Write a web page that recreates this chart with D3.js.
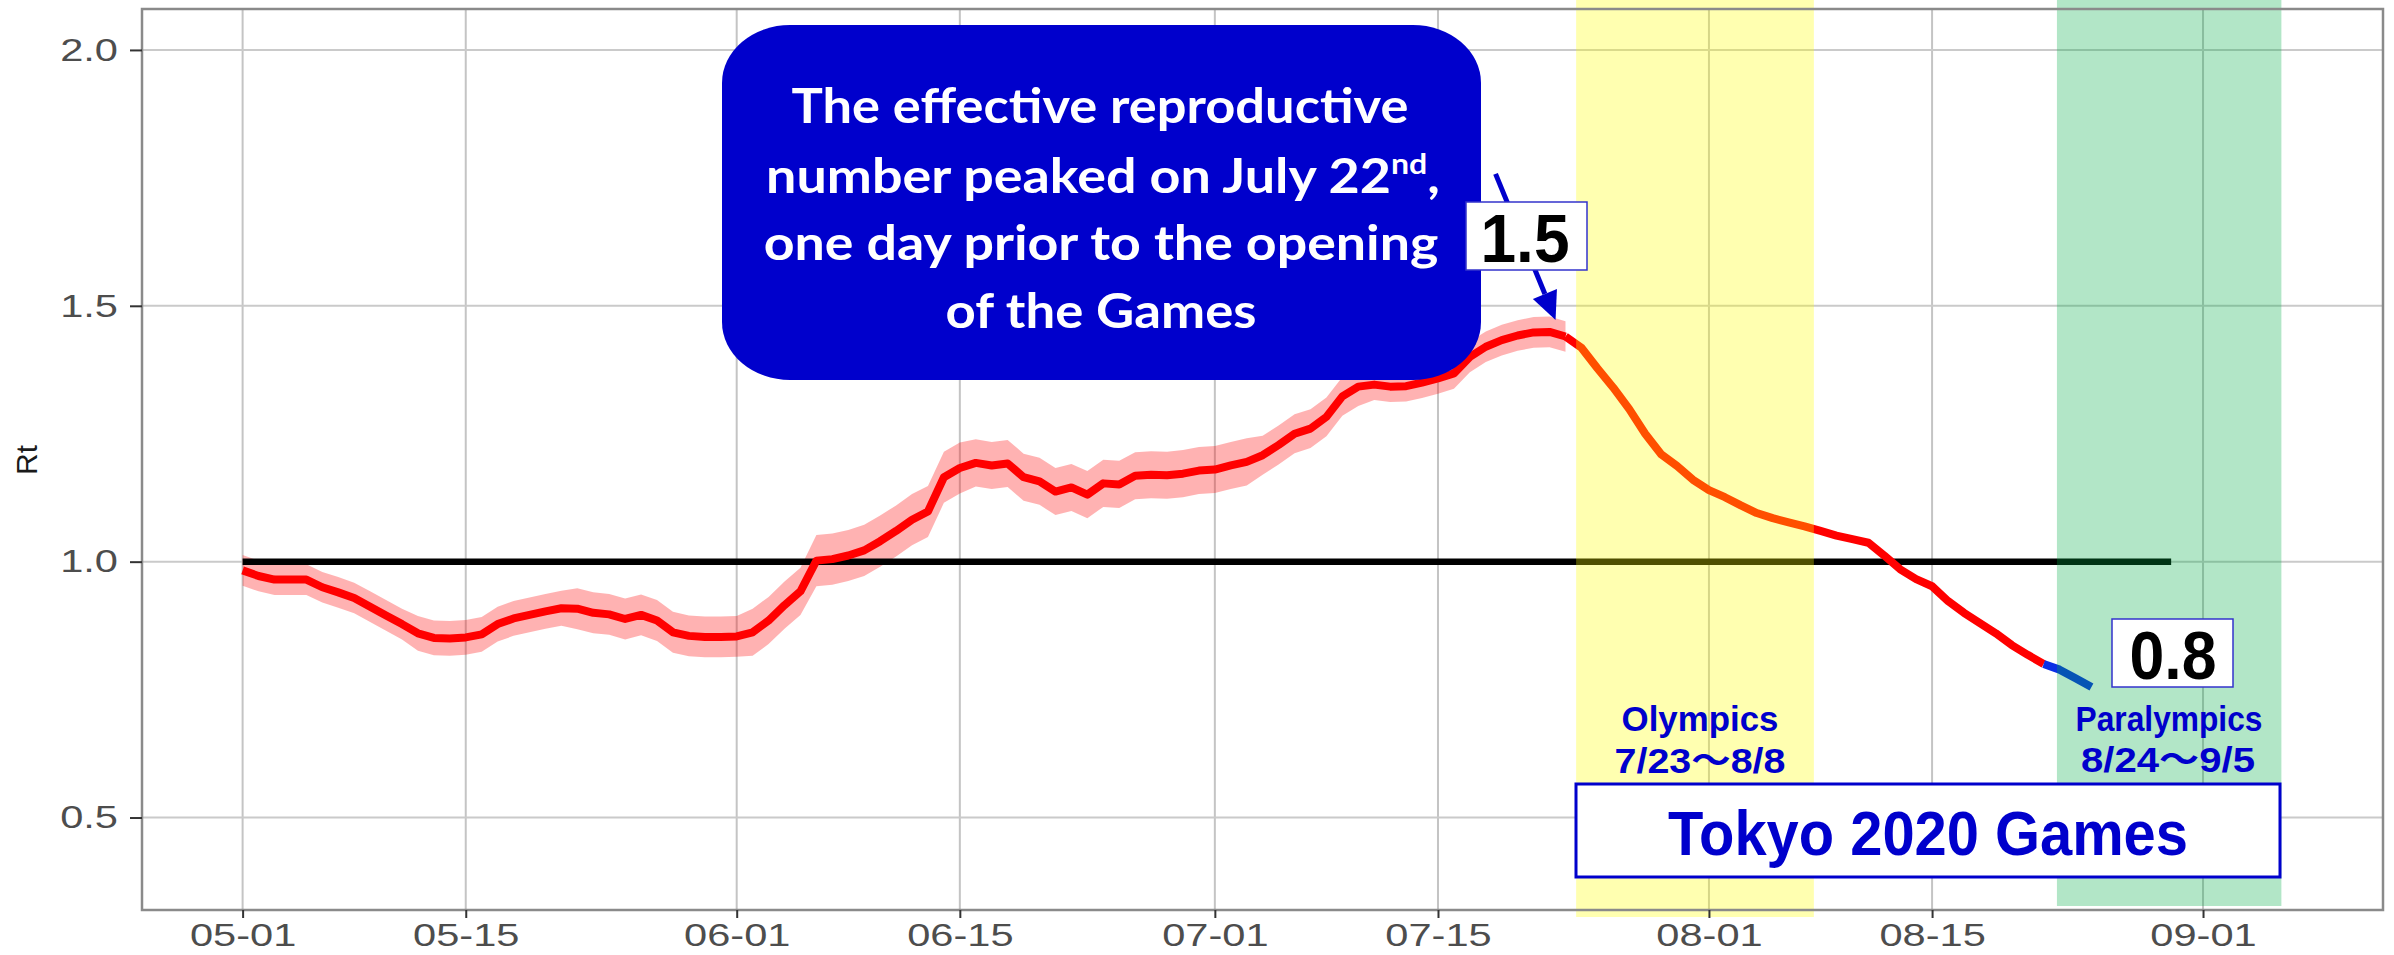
<!DOCTYPE html>
<html>
<head>
<meta charset="utf-8">
<script src="https://cdn.jsdelivr.net/npm/d3@7"></script>
<style>
  body { margin: 0; background: #fff; }
  svg { display: block; }
</style>
</head>
<body>
<svg width="2394" height="955"></svg>
<script>

// ---- data ----
let firstDay = "2021-05-01"

// daily Rt, May 1 .. Jul 23 (with credible band)
let rt = [0.983, 0.972, 0.965, 0.965, 0.965, 0.950, 0.940, 0.929, 0.912, 0.895,
  0.878, 0.860, 0.851, 0.850, 0.852, 0.858, 0.878, 0.889, 0.896, 0.903,
  0.909, 0.908, 0.900, 0.897, 0.888, 0.896, 0.885, 0.862, 0.855, 0.853,
  0.853, 0.854, 0.862, 0.885, 0.915, 0.942, 1.002, 1.005, 1.012, 1.022,
  1.040, 1.060, 1.082, 1.098, 1.165, 1.183, 1.193, 1.188, 1.192, 1.165,
  1.157, 1.137, 1.145, 1.131, 1.153, 1.151, 1.168, 1.170, 1.169, 1.172,
  1.178, 1.180, 1.188, 1.195, 1.208, 1.228, 1.250, 1.260, 1.283, 1.323,
  1.342, 1.346, 1.342, 1.343, 1.350, 1.358, 1.368, 1.400, 1.420, 1.433,
  1.442, 1.448, 1.449, 1.440]

let rtLow = [0.953, 0.942, 0.935, 0.935, 0.935, 0.920, 0.910, 0.899, 0.882, 0.865,
  0.848, 0.826, 0.817, 0.816, 0.818, 0.824, 0.844, 0.855, 0.862, 0.869,
  0.875, 0.868, 0.860, 0.857, 0.848, 0.856, 0.845, 0.822, 0.815, 0.813,
  0.813, 0.814, 0.816, 0.839, 0.869, 0.896, 0.952, 0.955, 0.962, 0.972,
  0.990, 1.010, 1.032, 1.048, 1.115, 1.133, 1.147, 1.142, 1.146, 1.119,
  1.111, 1.091, 1.099, 1.085, 1.107, 1.105, 1.122, 1.124, 1.123, 1.126,
  1.132, 1.134, 1.142, 1.149, 1.170, 1.190, 1.212, 1.222, 1.245, 1.285,
  1.304, 1.316, 1.312, 1.313, 1.320, 1.328, 1.338, 1.370, 1.390, 1.403,
  1.412, 1.418, 1.419, 1.410]

let rtHigh = [1.013, 1.002, 0.995, 0.995, 0.995, 0.980, 0.970, 0.959, 0.942, 0.925,
  0.908, 0.894, 0.885, 0.884, 0.886, 0.892, 0.912, 0.923, 0.930, 0.937,
  0.943, 0.948, 0.940, 0.937, 0.928, 0.936, 0.925, 0.902, 0.895, 0.893,
  0.893, 0.894, 0.908, 0.931, 0.961, 0.988, 1.052, 1.055, 1.062, 1.072,
  1.090, 1.110, 1.132, 1.148, 1.215, 1.233, 1.239, 1.234, 1.238, 1.211,
  1.203, 1.183, 1.191, 1.177, 1.199, 1.197, 1.214, 1.216, 1.215, 1.218,
  1.224, 1.226, 1.234, 1.241, 1.246, 1.266, 1.288, 1.298, 1.321, 1.361,
  1.380, 1.376, 1.372, 1.373, 1.380, 1.388, 1.398, 1.430, 1.450, 1.463,
  1.472, 1.478, 1.479, 1.470]

// daily Rt after the opening, Jul 23 .. Aug 22
let afterStart = "2021-07-23"
let rtAfter = [1.440, 1.418, 1.378, 1.340, 1.298, 1.250, 1.210, 1.187, 1.160, 1.140,
  1.126, 1.110, 1.095, 1.085, 1.077, 1.069, 1.060, 1.051, 1.044, 1.037,
  1.012, 0.985, 0.966, 0.952, 0.923, 0.900, 0.880, 0.860, 0.837, 0.818,
  0.800]

// last days (blue), Aug 22 .. Aug 25
let lastStart = "2021-08-22"
let rtLast = [0.800, 0.789, 0.772, 0.755]

let refLine = ["2021-05-01", "2021-08-30"]
let refValue = 1.0

let olympics = ["2021-07-23 16:00", "2021-08-07 14:00"]
let paralympics = ["2021-08-22 20:00", "2021-09-05 22:00"]

let xDomain = ["2021-04-24 16:30", "2021-09-12 07:00"]
let yDomain = [0.3193, 2.080]
let xTicks = ["2021-05-01", "2021-05-15", "2021-06-01", "2021-06-15", "2021-07-01",
  "2021-07-15", "2021-08-01", "2021-08-15", "2021-09-01"]
let yTicks = [0.5, 1.0, 1.5, 2.0]

let peakDay = "2021-07-22"
let peakText = "1.5"
let lastText = "0.8"


// ---- chart ----
let parseDay = d3.timeParse("%Y-%m-%d")
let parseTime = d3.timeParse("%Y-%m-%d %H:%M")

let svg = d3.select("svg")
let pL = 142, pR = 2383, pT = 9, pB = 910

let x = d3.scaleTime().domain(xDomain.map(parseTime)).range([pL, pR])
let y = d3.scaleLinear().domain(yDomain).range([pB, pT])

let daily = (start, vals) => vals.map((v, i) => ({ date: d3.timeDay.offset(parseDay(start), i), v: v }))

let main = daily(firstDay, rt).map((d, i) => ({ date: d.date, v: d.v, lo: rtLow[i], hi: rtHigh[i] }))
let after = daily(afterStart, rtAfter)
let last = daily(lastStart, rtLast)

// grid
let grid = svg.append("g")
grid.selectAll(".gx")
  .data(xTicks.map(parseDay))
  .enter().append("line")
  .attr("x1", (d) => x(d)).attr("x2", (d) => x(d))
  .attr("y1", pT).attr("y2", pB)
  .attr("stroke", "#c4c4c4").attr("stroke-width", 2)
grid.selectAll(".gy")
  .data(yTicks)
  .enter().append("line")
  .attr("x1", pL).attr("x2", pR)
  .attr("y1", (d) => y(d)).attr("y2", (d) => y(d))
  .attr("stroke", "#cacaca").attr("stroke-width", 2)

// band
svg.append("path")
  .datum(main)
  .attr("fill", "rgba(255,0,0,0.3)")
  .attr("d", d3.area().x((d) => x(d.date)).y0((d) => y(d.lo)).y1((d) => y(d.hi)))

// Rt = 1
svg.append("line")
  .attr("x1", x(parseDay(refLine[0]))).attr("x2", x(parseDay(refLine[1])))
  .attr("y1", y(refValue)).attr("y2", y(refValue))
  .attr("stroke", "#000").attr("stroke-width", 6.5)

let line = d3.line().x((d) => x(d.date)).y((d) => y(d.v))

svg.append("path").datum(main)
  .attr("fill", "none").attr("stroke", "#ff0000").attr("stroke-width", 8)
  .attr("stroke-linejoin", "round").attr("d", line)
svg.append("path").datum(after)
  .attr("fill", "none").attr("stroke", "#ff0000").attr("stroke-width", 8)
  .attr("stroke-linejoin", "round").attr("d", line)
svg.append("path").datum(last)
  .attr("fill", "none").attr("stroke", "#0a2ee6").attr("stroke-width", 8)
  .attr("stroke-linejoin", "round").attr("d", line)

// games periods
svg.append("rect")
  .attr("x", x(parseTime(olympics[0]))).attr("y", 0)
  .attr("width", x(parseTime(olympics[1])) - x(parseTime(olympics[0])))
  .attr("height", pB + 7)
  .attr("fill", "rgba(255,255,0,0.31)")
svg.append("rect")
  .attr("x", x(parseTime(paralympics[0]))).attr("y", 0)
  .attr("width", x(parseTime(paralympics[1])) - x(parseTime(paralympics[0])))
  .attr("height", pB - 4)
  .attr("fill", "rgba(0,171,70,0.3)")

// panel border
svg.append("rect")
  .attr("x", pL).attr("y", pT)
  .attr("width", pR - pL).attr("height", pB - pT)
  .attr("fill", "none").attr("stroke", "#8a8a8a").attr("stroke-width", 2.5)

// axes
let stretch = (sel) => {
  sel.selectAll("text").each(function () {
    let w = this.getComputedTextLength()
    d3.select(this).attr("textLength", w * 1.3).attr("lengthAdjust", "spacingAndGlyphs")
  })
}

let xAxis = svg.append("g")
  .attr("transform", "translate(0," + pB + ")")
  .call(d3.axisBottom(x).tickValues(xTicks.map(parseDay)).tickFormat(d3.timeFormat("%m-%d"))
    .tickSize(8).tickPadding(5))
let yAxis = svg.append("g")
  .attr("transform", "translate(" + pL + ",0)")
  .call(d3.axisLeft(y).tickValues(yTicks).tickFormat(d3.format(".1f")).tickSize(12).tickPadding(12))

for (let ax of [xAxis, yAxis]) {
  ax.select(".domain").remove()
  ax.selectAll("line").attr("stroke", "#333").attr("stroke-width", 2)
  ax.selectAll("text")
    .attr("font-family", "'Liberation Sans', Arial, sans-serif")
    .attr("font-size", 32).attr("fill", "#4d4d4d")
  stretch(ax)
}

svg.append("text")
  .attr("transform", "translate(37,460) rotate(-90)")
  .attr("text-anchor", "middle")
  .attr("font-family", "'Liberation Sans', Arial, sans-serif")
  .attr("font-size", 30).attr("fill", "#1a1a1a")
  .text("Rt")

// ---- annotations ----
let fitText = (cx, cy, w, build) => {
  let t = svg.append("text").attr("text-anchor", "middle")
  build(t)
  let bw = t.node().getBBox().width
  t.attr("transform", "translate(" + cx + "," + cy + ") scale(" + (w / bw) + ",1)")
  return t
}

let ann = "'Liberation Sans', Arial, 'Noto Sans CJK JP', sans-serif"

// arrow to the peak
let tipX = x(parseDay(peakDay)) + 6
let tipY = y(d3.max(rt)) - 12
let fromX = tipX - 60, fromY = tipY - 146
let ang = Math.atan2(tipY - fromY, tipX - fromX)
let headLen = 28, headW = 13
let bx = tipX - headLen * Math.cos(ang), by = tipY - headLen * Math.sin(ang)
svg.append("line")
  .attr("x1", fromX).attr("y1", fromY).attr("x2", bx).attr("y2", by)
  .attr("stroke", "#0000cc").attr("stroke-width", 5)
svg.append("path")
  .attr("d", "M" + tipX + "," + tipY +
    "L" + (bx + headW * Math.sin(ang)) + "," + (by - headW * Math.cos(ang)) +
    "L" + (bx - headW * Math.sin(ang)) + "," + (by + headW * Math.cos(ang)) + "Z")
  .attr("fill", "#0000cc")

// callout
svg.append("rect")
  .attr("x", 722).attr("y", 25).attr("width", 759).attr("height", 355)
  .attr("rx", 68).attr("ry", 58)
  .attr("fill", "#0000cc")

let callFont = "Lato, 'Open Sans', sans-serif"
let callLine = (cx, cy, w, s) => fitText(cx, cy, w, (t) => t
  .attr("font-family", callFont).attr("font-weight", 700)
  .attr("font-size", 47).attr("fill", "#fff").text(s))

callLine(1100, 123, 617, "The effective reproductive")
fitText(1103, 193, 674, (t) => {
  t.attr("font-family", callFont).attr("font-weight", 700)
    .attr("font-size", 47).attr("fill", "#fff")
  t.append("tspan").text("number peaked on July 22")
  t.append("tspan").attr("font-size", 28).attr("dy", -19).text("nd")
  t.append("tspan").attr("dy", 19).text(",")
})
callLine(1101, 260, 675, "one day prior to the opening")
callLine(1101, 328, 311, "of the Games")

// value boxes
let valueBox = (x0, y0, w, h, cx, cy, tw, s) => {
  svg.append("rect")
    .attr("x", x0).attr("y", y0).attr("width", w).attr("height", h)
    .attr("fill", "#fff").attr("stroke", "#3333cc").attr("stroke-width", 1.5)
  fitText(cx, cy, tw, (t) => t
    .attr("font-family", ann).attr("font-weight", 700)
    .attr("font-size", 68).attr("fill", "#000").text(s))
}
valueBox(1466, 202, 121, 68, 1525, 262, 89, peakText)
valueBox(2112, 619, 121, 68, 2173, 679, 87, lastText)

// period labels
let periodText = (cx, cy, w, s) => fitText(cx, cy, w, (t) => t
  .attr("font-family", ann).attr("font-weight", 700).attr("font-size", 35)
  .attr("fill", "#0000cc").text(s))
periodText(1700, 731, 157, "Olympics")
periodText(1700, 773, 171, "7/23〜8/8")
periodText(2169, 731, 187, "Paralympics")
periodText(2168, 772, 174, "8/24〜9/5")

// Tokyo 2020 box
svg.append("rect")
  .attr("x", 1576).attr("y", 784).attr("width", 704).attr("height", 93)
  .attr("fill", "#fff").attr("stroke", "#0000cc").attr("stroke-width", 3)
fitText(1928, 855, 520, (t) => t
  .attr("font-family", ann).attr("font-weight", 700)
  .attr("font-size", 63).attr("fill", "#0000cc").text("Tokyo 2020 Games"))

</script>
</body>
</html>
